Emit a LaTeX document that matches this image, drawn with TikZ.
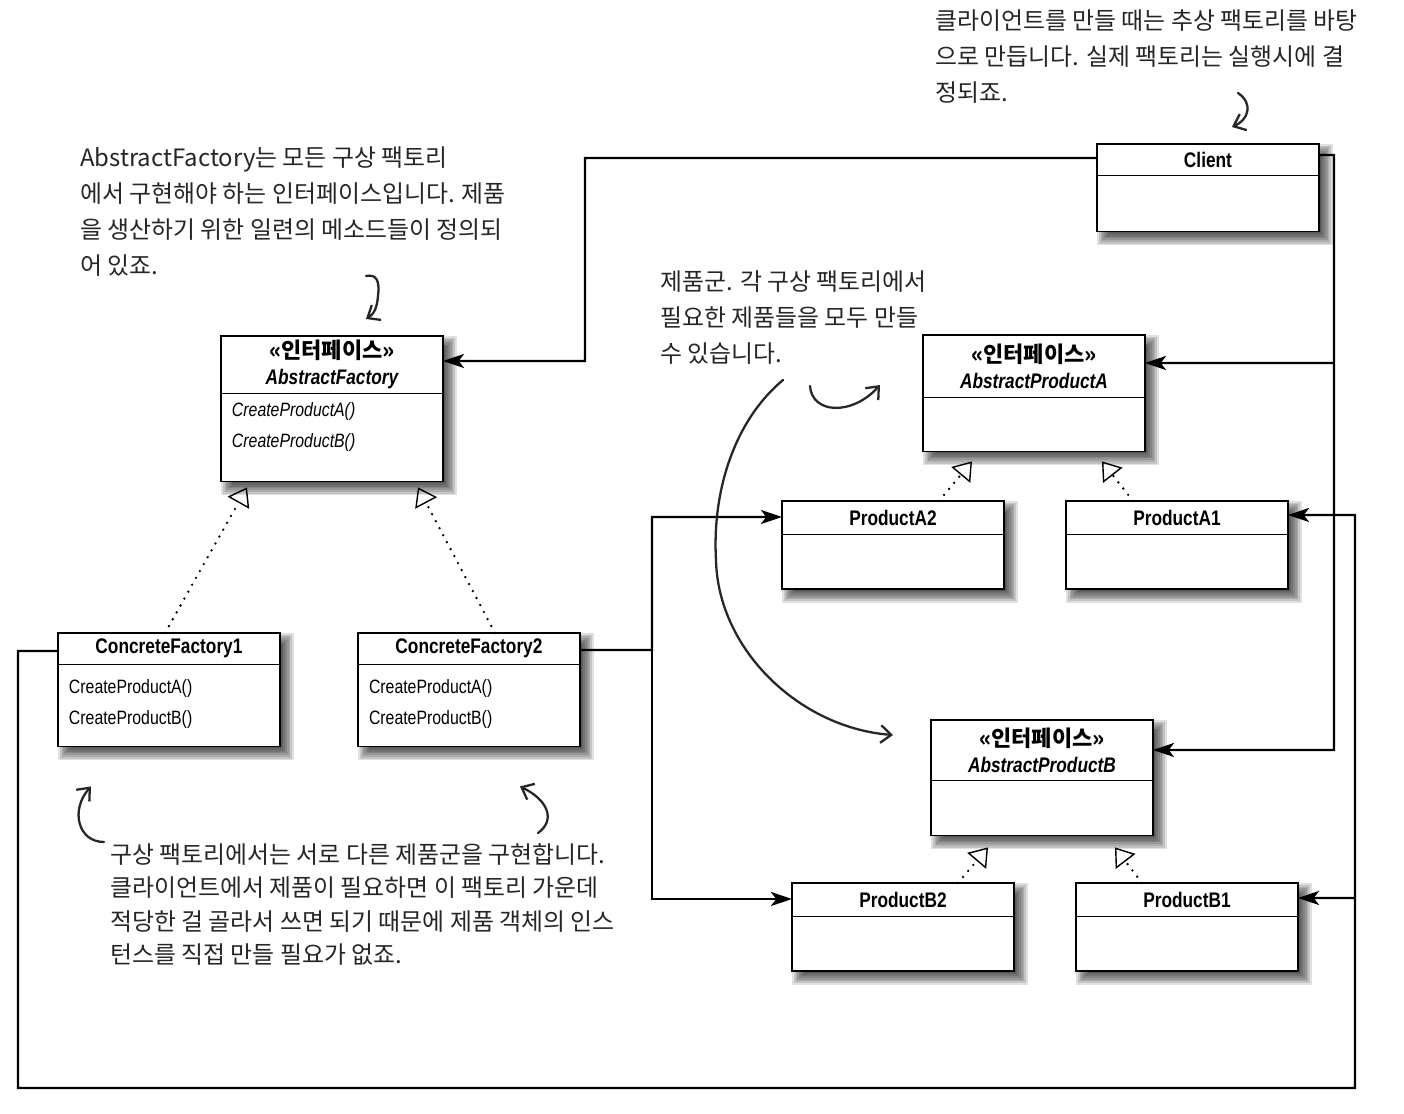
\documentclass[tikz,border=0pt]{standalone}
\usepackage{fontspec}
\newfontfamily\umlfont[FakeStretch=0.82]{Liberation Sans}
\newfontfamily\kr{Noto Sans CJK KR}
\usetikzlibrary{shapes.multipart,arrows.meta,backgrounds}

\newcommand{\hd}[2]{\parbox[c][#1][c]{4.44cm}{\centering #2}}
\newcommand{\bd}[2]{\parbox[c][#1][t]{4.44cm}{#2}}
\newcommand{\iface}{{\kr\bfseries\fontsize{12.5}{14.5}\selectfont «인터페이스»}}

\tikzset{
  cls/.style={draw, line width=0.7pt, fill=white, anchor=north west,
    rectangle split, rectangle split parts=2, inner sep=0pt, outer sep=0pt,
    font=\umlfont\fontsize{11}{17.5}\selectfont},
  conn/.style={line width=1.4pt, -{Stealth[length=12pt,width=8pt,inset=3pt]}},
  realize/.style={line width=1.5pt, line cap=round, dash pattern=on 0pt off 4.5pt,
    -{Triangle[open,length=10pt,width=14pt,line width=0.8pt]}},
  note/.style={anchor=north west, inner sep=0pt, align=left, text=black!85,
    font=\kr\fontsize{13.6}{20.5}\selectfont},
  hand/.style={line width=1.3pt, draw=black!85, line cap=round,
    -{Straight Barb[length=6pt,width=10pt]}}
}

\begin{document}
\begin{tikzpicture}[x=0.02cm, y=-0.02cm]
\useasboundingbox (0,0) rectangle (1404,1114);

% classes
\node[cls] (client) at (1097,144) {\hd{0.6cm}{\bfseries\fontsize{12}{14.5}\selectfont Client}\nodepart{two}\bd{1.1cm}{}};

\node[cls] (af) at (221,336) {\hd{1.12cm}{\iface\\\bfseries\itshape\fontsize{12}{14.5}\selectfont AbstractFactory}%
  \nodepart{two}\bd{1.74cm}{\vspace{0.18cm}\itshape\hspace*{0.22cm}CreateProductA()\\\hspace*{0.22cm}CreateProductB()}};

\foreach \n/\t/\x in {cf1/ConcreteFactory1/58, cf2/ConcreteFactory2/358}
  \node[cls] (\n) at (\x,633) {\hd{0.6cm}{\bfseries\fontsize{12}{14.5}\selectfont \t}%
    \nodepart{two}\bd{1.62cm}{\vspace{0.3cm}\hspace*{0.22cm}CreateProductA()\\\hspace*{0.22cm}CreateProductB()}};

\node[cls] (apa) at (923,335) {\hd{1.22cm}{\iface\\\bfseries\itshape\fontsize{12}{14.5}\selectfont AbstractProductA}%
  \nodepart{two}\bd{1.06cm}{}};

\node[cls] (apb) at (931,720) {\hd{1.18cm}{\iface\\\bfseries\itshape\fontsize{12}{14.5}\selectfont AbstractProductB}%
  \nodepart{two}\bd{1.08cm}{}};

\foreach \n/\t/\x/\y in {pa2/ProductA2/782/501, pa1/ProductA1/1066/501, pb2/ProductB2/792/883, pb1/ProductB1/1076/883}
  \node[cls] (\n) at (\x,\y) {\hd{0.65cm}{\bfseries\fontsize{12}{14.5}\selectfont \t}\nodepart{two}\bd{1.06cm}{}};

% soft shadows behind the classes
\begin{pgfonlayer}{background}
\fill[white] (0,0) rectangle (1404,1114);
\foreach \b in {client,af,cf1,cf2,apa,apb,pa2,pa1,pb2,pb1}
  \foreach \e in {-7,-5.25,...,7}
    \fill[black, opacity=0.12] ([shift={(7-\e,7-\e)}]\b.north west) rectangle ([shift={(7+\e,7+\e)}]\b.south east);
\end{pgfonlayer}

% associations
\draw[conn] ([yshift=-0.28cm]client.north west) -- (585,158) |- ([yshift=-0.5cm]af.north east);

\draw[conn] ([yshift=-0.22cm]client.north east) -| (1334,750) -- ([yshift=-0.6cm]apb.north east);
\coordinate (ja) at (1334,363);
\draw[conn] (ja) -- ([yshift=-0.56cm]apa.north east);

\draw[conn] ([yshift=-0.36cm]cf1.north west) -- (18,651) |- (1355,1088) |- ([yshift=-0.28cm]pa1.north east);
\coordinate (jb) at (1355,898);
\draw[conn] (jb) -- ([yshift=-0.3cm]pb1.north east);

\draw[conn] ([yshift=-0.34cm]cf2.north east) -| (652,517) -- ([yshift=-0.32cm]pa2.north west);
\coordinate (jc) at (652,650);
\draw[conn] (jc) |- ([yshift=-0.32cm]pb2.north west);

% realizations
\draw[realize] ([xshift=2.14cm]cf1.north west) -- ([xshift=0.52cm,yshift=-0.12cm]af.south west);
\draw[realize] ([xshift=2.74cm]cf2.north west) -- ([xshift=-0.5cm,yshift=-0.12cm]af.south east);
\draw[realize] ([xshift=3.14cm]pa2.north west) -- ([xshift=0.98cm,yshift=-0.2cm]apa.south west);
\draw[realize] ([xshift=1.34cm]pa1.north west) -- ([xshift=-0.86cm,yshift=-0.2cm]apa.south east);
\draw[realize] ([xshift=3.32cm]pb2.north west) -- ([xshift=1.14cm,yshift=-0.24cm]apb.south west);
\draw[realize] ([xshift=1.32cm]pb1.north west) -- ([xshift=-0.76cm,yshift=-0.24cm]apb.south east);

% notes
\node[note] (n1) at (935,9) {클라이언트를 만들 때는 추상 팩토리를 바탕\\으로 만듭니다. 실제 팩토리는 실행시에 결\\정되죠.};
\node[note] (n2) at (80,146) {AbstractFactory는 모든 구상 팩토리\\에서 구현해야 하는 인터페이스입니다. 제품\\을 생산하기 위한 일련의 메소드들이 정의되\\어 있죠.};
\node[note] (n3) at (660,270) {제품군. 각 구상 팩토리에서\\필요한 제품들을 모두 만들\\수 있습니다.};
\node[note, font=\kr\fontsize{13.6}{19}\selectfont] (n4) at (110,843) {구상 팩토리에서는 서로 다른 제품군을 구현합니다.\\클라이언트에서 제품이 필요하면 이 팩토리 가운데\\적당한 걸 골라서 쓰면 되기 때문에 제품 객체의 인스\\턴스를 직접 만들 필요가 없죠.};

\draw[hand] (1238,93) .. controls (1254,104) and (1248,120) .. ([xshift=2.7cm,yshift=0.34cm]client.north west);
\draw[hand] (366,276) .. controls (376,274) and (380,280) .. (378,296) .. controls (377,308) and (374,314) .. ([xshift=2.9cm,yshift=0.34cm]af.north west);
\draw[hand] (810,386) .. controls (812,414) and (852,416) .. ([xshift=-0.86cm,yshift=-1cm]apa.north west);
\draw[hand] (783,380) .. controls (735,420) and (712,490) .. (716,560) .. controls (718,650) and (800,728) .. ([xshift=-0.76cm,yshift=-0.3cm]apb.north west);
\draw[hand] (104,842) .. controls (78,842) and (70,810) .. ([xshift=0.66cm,yshift=-0.8cm]cf1.south west);
\draw[hand] (538,833) .. controls (556,820) and (548,800) .. ([xshift=3.24cm,yshift=-0.8cm]cf2.south west);

\end{tikzpicture}
\end{document}
